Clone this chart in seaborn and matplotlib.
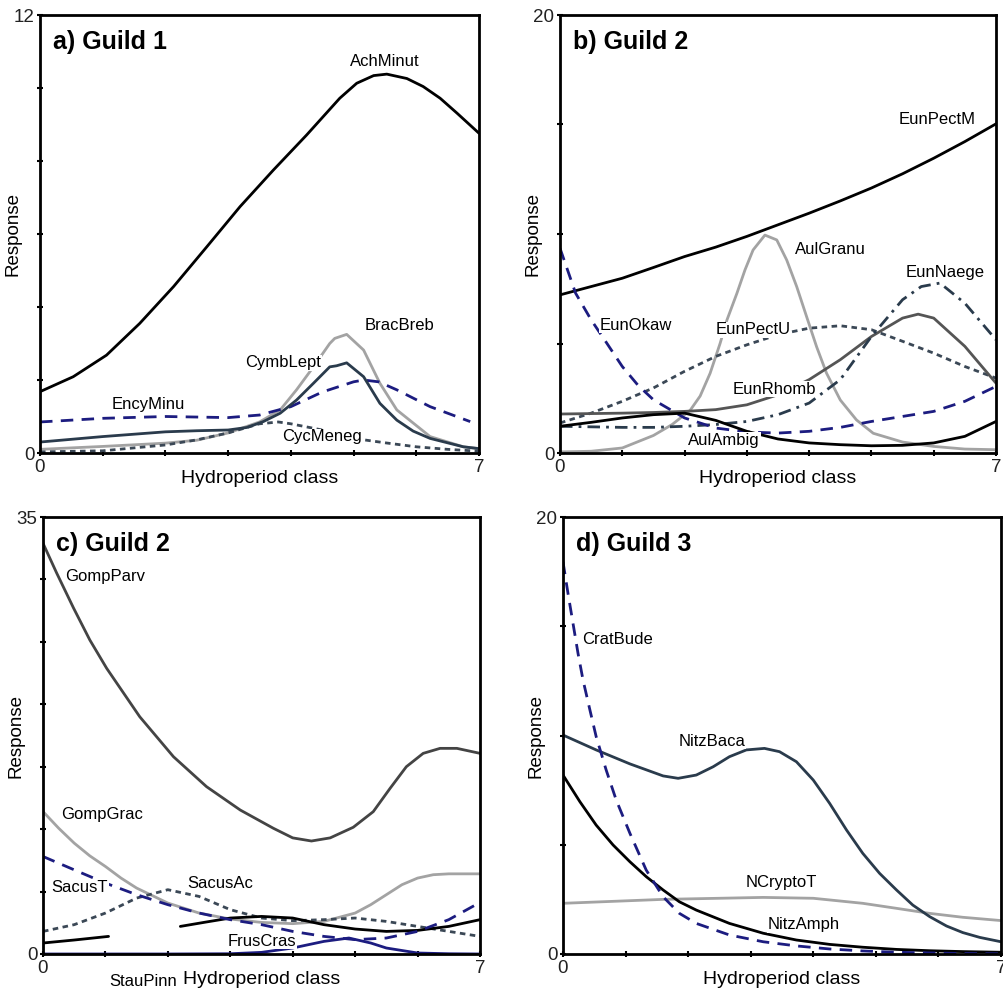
import numpy as np
import pandas as pd
import matplotlib
matplotlib.use("Agg")
import matplotlib.pyplot as plt
import seaborn as sns

sns.set_style("ticks")
plt.rcParams['font.family'] = ['Liberation Sans', 'DejaVu Sans']
plt.rcParams['text.color'] = 'black'
plt.rcParams['axes.labelcolor'] = 'black'

# ---------------- data: panel a (Guild 1) ----------------
xa_ach = [0, 0.53, 1.06, 1.59, 2.13, 2.66, 3.19, 3.72, 4.25, 4.78, 5.05, 5.32, 5.53, 5.85, 6.11, 6.38, 6.65, 7]
ach_minut = [1.68, 2.09, 2.68, 3.55, 4.56, 5.65, 6.75, 7.75, 8.71, 9.72, 10.13, 10.34, 10.38, 10.26, 10.04, 9.72, 9.31, 8.76]
xa_bb = [0, 1, 2, 2.5, 3, 3.5, 3.83, 4.09, 4.36, 4.62, 4.70, 4.89, 5.16, 5.42, 5.69, 6.22, 6.75, 7]
brac_breb = [0.1, 0.18, 0.27, 0.35, 0.55, 0.85, 1.18, 1.73, 2.36, 3.0, 3.14, 3.25, 2.82, 1.91, 1.18, 0.45, 0.17, 0.12]
xa_cl = [0, 1, 2, 2.5, 3, 3.3, 3.56, 3.83, 4.09, 4.36, 4.62, 4.73, 4.89, 5.16, 5.42, 5.69, 5.95, 6.22, 6.75, 7]
cymb_lept = [0.3, 0.45, 0.58, 0.61, 0.63, 0.7, 0.86, 1.09, 1.45, 1.91, 2.36, 2.39, 2.47, 2.09, 1.36, 0.9, 0.6, 0.4, 0.17, 0.12]
xa_ency = [0, 1, 2, 3, 3.5, 4, 4.5, 5, 5.16, 5.4, 5.69, 6.22, 6.86]
ency_minu = [0.85, 0.95, 1.0, 0.97, 1.04, 1.27, 1.67, 1.95, 2.0, 1.95, 1.73, 1.27, 0.86]
xa_cyc = [0, 1, 2, 2.5, 3, 3.5, 3.8, 4, 4.5, 5, 5.5, 6, 6.5, 7]
cyc_meneg = [0.03, 0.06, 0.22, 0.36, 0.55, 0.8, 0.85, 0.8, 0.63, 0.4, 0.28, 0.17, 0.1, 0.05]

# ---------------- data: panel b (Guild 2) ----------------
xb = [0, 0.5, 1, 1.5, 2, 2.5, 3, 3.5, 4, 4.5, 5, 5.5, 6, 6.5, 7]
eun_pectm = [7.22, 7.6, 7.98, 8.47, 8.97, 9.4, 9.89, 10.42, 10.95, 11.51, 12.1, 12.75, 13.46, 14.22, 15.03]
xb_aul = [0, 0.5, 1, 1.5, 1.8, 2.09, 2.25, 2.41, 2.57, 2.68, 2.84, 2.97, 3.10, 3.29, 3.48, 3.64, 3.80,
          3.96, 4.12, 4.28, 4.5, 4.76, 5.03, 5.5, 6, 6.5, 7]
aul_granu = [0.05, 0.08, 0.23, 0.8, 1.3, 1.95, 2.6, 3.64, 5.0, 6.07, 7.29, 8.36, 9.27, 9.95, 9.73, 8.81, 7.6,
             6.22, 4.85, 3.64, 2.42, 1.51, 0.9, 0.5, 0.3, 0.18, 0.15]
xb_nae = [0, 1, 1.5, 2, 2.5, 3, 3.5, 4, 4.5, 5, 5.5, 5.8, 6.1, 6.5, 7]
eun_naege = [1.22, 1.17, 1.17, 1.22, 1.3, 1.44, 1.75, 2.28, 3.35, 5.32, 7.0, 7.6, 7.76, 6.84, 5.17]
xb_rho = [0, 1, 1.5, 2, 2.5, 3, 3.5, 4, 4.5, 5, 5.5, 5.75, 6, 6.5, 7]
eun_rhomb = [1.78, 1.82, 1.85, 1.9, 1.98, 2.2, 2.66, 3.35, 4.26, 5.32, 6.16, 6.34, 6.16, 4.87, 3.19]
eun_pectu = [1.37, 1.82, 2.36, 2.97, 3.73, 4.41, 4.94, 5.4, 5.7, 5.81, 5.63, 5.1, 4.56, 3.95, 3.42]
xb_oka = [0, 0.25, 0.5, 0.75, 1, 1.25, 1.5, 2, 2.5, 3, 3.5, 4, 4.5, 5, 5.5, 6, 6.5, 7]
eun_okaw = [9.35, 7.3, 6.08, 5.02, 3.95, 3.1, 2.43, 1.6, 1.14, 0.96, 0.91, 0.99, 1.17, 1.44, 1.67, 1.9, 2.36, 3.04]
aul_ambig = [1.22, 1.4, 1.6, 1.75, 1.82, 1.49, 0.99, 0.64, 0.46, 0.38, 0.33, 0.35, 0.46, 0.76, 1.44]

# ---------------- data: panel c (Guild 2) ----------------
xc = [0, 0.5, 1, 1.5, 2, 2.5, 3, 3.5, 4, 4.5, 5, 5.5, 6, 6.5, 7]
xc_gp = [0, 0.22, 0.49, 0.75, 1.02, 1.55, 2.09, 2.62, 3.16, 3.69, 4.0, 4.3, 4.6, 4.97, 5.29, 5.56,
         5.82, 6.09, 6.36, 6.63, 7]
gomp_parv = [32.9, 30.5, 27.7, 25.15, 22.88, 19.0, 15.8, 13.4, 11.53, 10.07, 9.3, 9.05, 9.3, 10.15, 11.4,
             13.27, 15.0, 16.07, 16.47, 16.47, 16.07]
xc_gg = [0, 0.25, 0.5, 0.75, 1, 1.25, 1.5, 2, 2.5, 3, 3.5, 4, 4.5, 5, 5.25, 5.5, 5.75, 6, 6.25, 6.5, 7]
gomp_grac = [11.41, 10.08, 8.88, 7.86, 7.01, 6.08, 5.28, 4.08, 3.28, 2.8, 2.53, 2.43, 2.61, 3.28, 3.95,
             4.75, 5.55, 6.08, 6.35, 6.42, 6.42]
sacus_t = [7.81, 6.74, 5.68, 4.75, 3.95, 3.28, 2.75, 2.35, 1.81, 1.41, 1.15, 1.28, 1.81, 2.75, 4.13]
sacus_ac = [1.81, 2.35, 3.28, 4.48, 5.15, 4.61, 3.55, 2.88, 2.67, 2.75, 2.88, 2.61, 2.21, 1.81, 1.41]
xc_s1 = [0, 0.5, 1.05]
stau_seg1 = [0.88, 1.12, 1.41]
xc_s2 = [2.2, 2.6, 3, 3.5, 4, 4.5, 5, 5.5, 6, 6.5, 7]
stau_seg2 = [2.21, 2.55, 2.88, 3.01, 2.88, 2.35, 2.0, 1.81, 1.89, 2.21, 2.75]
xc_fc = [0, 1, 2, 3, 3.5, 4, 4.5, 4.9, 5.25, 5.5, 6, 6.5, 7]
frus_cras = [0.0, 0.0, 0.0, 0.02, 0.13, 0.48, 1.01, 1.28, 0.88, 0.48, 0.08, 0.02, 0.0]

# ---------------- data: panel d (Guild 3) ----------------
xd_cb = [0, 0.08, 0.16, 0.24, 0.32, 0.43, 0.53, 0.69, 0.85, 1.07, 1.33, 1.6, 1.86, 2.13, 2.66, 3.2,
         3.73, 4.26, 4.79, 5.33, 6.2, 7]
crat_bude = [17.95, 16.5, 15.13, 13.76, 12.54, 11.17, 9.95, 8.42, 7.05, 5.52, 3.84, 2.62, 1.86, 1.4, 0.87,
             0.56, 0.37, 0.23, 0.14, 0.08, 0.03, 0.01]
xd_nb = [0, 0.53, 1.07, 1.6, 1.84, 2.13, 2.4, 2.66, 2.93, 3.22, 3.46, 3.73, 4.0, 4.26, 4.53, 4.79,
         5.06, 5.33, 5.59, 5.86, 6.13, 6.39, 6.66, 7]
nitz_baca = [10.02, 9.34, 8.70, 8.15, 8.04, 8.19, 8.57, 9.03, 9.34, 9.41, 9.26, 8.80, 7.96, 6.90, 5.68,
             4.61, 3.69, 2.93, 2.24, 1.71, 1.28, 0.98, 0.76, 0.56]
xd_na = [0, 0.27, 0.53, 0.8, 1.07, 1.33, 1.6, 1.86, 2.13, 2.66, 3.2, 3.73, 4.26, 4.79, 5.33, 5.86, 6.39, 7]
nitz_amph = [8.19, 6.97, 5.9, 4.99, 4.22, 3.54, 2.93, 2.39, 2.01, 1.40, 0.95, 0.64, 0.44, 0.31, 0.21,
             0.15, 0.11, 0.08]
xd_nc = [0, 1.6, 3.2, 4.0, 4.79, 5.33, 5.86, 6.39, 7]
ncrypto_t = [2.32, 2.5, 2.59, 2.55, 2.32, 2.09, 1.86, 1.68, 1.53]

# ---------------- styles ----------------
BLACK = "#000000"
DGRAY = "#444444"
LGRAY = "#a3a3a3"
SLATE = "#2a3b4c"
NAVY = "#1c1c80"
DOT = "#3b4856"
dashed = (0, (4.5, 3))
dotted = (0, (2, 1.6))
dashdot = (0, (4.5, 2.2, 1, 2.2))

fig = plt.figure(figsize=(10.04, 9.9), dpi=100)
W, H = 1004, 990

def make_ax(l, t, r, b):
    return fig.add_axes([l / W, 1 - b / H, (r - l) / W, (b - t) / H])

axa = make_ax(40, 15, 479, 453)
axb = make_ax(560, 15, 996, 453)
axc = make_ax(43, 517, 480, 954)
axd = make_ax(563, 517, 1001, 954)

def line(ax, x, y, color, ls="-", lw=2.0):
    sns.lineplot(x=x, y=y, ax=ax, color=color, linestyle=ls, linewidth=lw,
                 errorbar=None, sort=False)

def style_ax(ax, ymax, ystep, title):
    ax.set_xlim(0, 7)
    ax.set_ylim(0, ymax)
    ax.set_xticks(np.arange(0, 8, 1))
    ax.set_xticklabels(["0", "", "", "", "", "", "", "7"])
    yt = np.arange(0, ymax + 0.01, ystep)
    ax.set_yticks(yt)
    ax.set_yticklabels([str(int(v)) if v in (0, ymax) else "" for v in yt])
    ax.tick_params(direction="inout", length=4, width=1.5, labelsize=13.5,
                   colors="black", pad=2, labelcolor="#222222")
    for s in ax.spines.values():
        s.set_visible(True)
        s.set_linewidth(2.0)
        s.set_color("black")
    ax.set_xlabel("Hydroperiod class", fontsize=14, labelpad=-4)
    ax.set_ylabel("Response", fontsize=13.5, labelpad=-6)
    ax.text(0.03, 0.965, title, transform=ax.transAxes, fontsize=18,
            fontweight="bold", ha="left", va="top")

BOX = dict(facecolor="white", edgecolor="none", pad=0.6)

def label(ax, txt, x, y, clip=True):
    ax.text(x, y, txt, fontsize=12, ha="center", va="center", bbox=BOX,
            clip_on=clip)

# panel a
line(axa, xa_ach, ach_minut, BLACK)
line(axa, xa_bb, brac_breb, LGRAY)
line(axa, xa_cyc, cyc_meneg, DOT, dotted)
line(axa, xa_ency, ency_minu, NAVY, dashed)
line(axa, xa_cl, cymb_lept, SLATE)
style_ax(axa, 12, 2, "a) Guild 1")
for txt, x, y in [("AchMinut", 385, 62), ("BracBreb", 400, 325), ("CymbLept", 283, 363),
                  ("EncyMinu", 148, 405), ("CycMeneg", 322, 437)]:
    label(axa, txt, (x - 40) / 439 * 7, (453 - y) / 438 * 12)

# panel b
line(axb, xb, eun_pectm, BLACK)
line(axb, xb_aul, aul_granu, LGRAY)
line(axb, xb, eun_pectu, DOT, dotted)
line(axb, xb_rho, eun_rhomb, "#555555")
line(axb, xb_nae, eun_naege, SLATE, dashdot)
line(axb, xb_oka, eun_okaw, NAVY, dashed)
line(axb, xb, aul_ambig, BLACK)
style_ax(axb, 20, 5, "b) Guild 2")
for txt, x, y in [("EunPectM", 937, 120), ("AulGranu", 830, 250), ("EunNaege", 945, 272),
                  ("EunOkaw", 636, 325), ("EunPectU", 753, 330), ("EunRhomb", 774, 389),
                  ("AulAmbig", 724, 440)]:
    label(axb, txt, (x - 560) / 436 * 7, (453 - y) / 438 * 20)

# panel c
line(axc, xc_gp, gomp_parv, DGRAY)
line(axc, xc_gg, gomp_grac, LGRAY)
line(axc, xc, sacus_ac, DOT, dotted)
line(axc, xc_s1, stau_seg1, BLACK)
line(axc, xc_s2, stau_seg2, BLACK)
line(axc, xc, sacus_t, NAVY, dashed)
line(axc, xc_fc, frus_cras, NAVY)
style_ax(axc, 35, 5, "c) Guild 2")
for txt, x, y in [("GompParv", 105, 577), ("GompGrac", 102, 815), ("SacusT", 80, 887),
                  ("SacusAc", 220, 884), ("FrusCras", 262, 941)]:
    label(axc, txt, (x - 43) / 437 * 7, (954 - y) / 437 * 35)
axc.text((143 - 43) / 437 * 7, (954 - 982) / 437 * 35, "StauPinn", fontsize=12,
         ha="center", va="center", clip_on=False)

# panel d
line(axd, xd_nc, ncrypto_t, LGRAY)
line(axd, xd_nb, nitz_baca, SLATE)
line(axd, xd_na, nitz_amph, BLACK)
line(axd, xd_cb, crat_bude, NAVY, dashed)
style_ax(axd, 20, 5, "d) Guild 3")
for txt, x, y in [("CratBude", 618, 639), ("NitzBaca", 712, 741), ("NCryptoT", 781, 883),
                  ("NitzAmph", 804, 925)]:
    label(axd, txt, (x - 563) / 438 * 7, (954 - y) / 437 * 20)

fig.savefig("out.png", dpi=100)
